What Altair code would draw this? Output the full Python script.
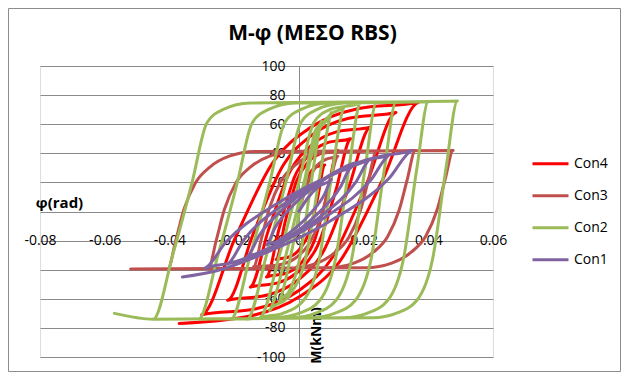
import altair as alt
import pandas as pd

series = ["Con4", "Con3", "Con2", "Con1"]
colors = ["#FF0000", "#C0504D", "#9BBB59", "#8064A2"]
x_ticks = [-0.08, -0.06, -0.04, -0.02, 0, 0.02, 0.04, 0.06]
y_ticks = [-100, -80, -60, -40, -20, 0, 20, 40, 60, 80, 100]

# Con4 (red)
phi_con4 = [0, 0.0012, 0.0026, 0.004, 0.0058, 0.008,
            0.0058, 0.0031, 0.0005, -0.0028, -0.007,
            -0.0042, -0.0007, 0.0025, 0.0067, 0.012,
            0.0087, 0.0047, 0.001, -0.0038, -0.010,
            -0.0061, -0.0014, 0.003, 0.0087, 0.016,
            0.0114, 0.0058, 0.0005, -0.0063, -0.015,
            -0.0095, -0.0028, 0.0035, 0.0116, 0.022,
            0.0154, 0.0075, 0.0, -0.0097, -0.022,
            -0.0142, -0.0048, 0.004, 0.0154, 0.030,
            0.021, 0.0102, 0.0, -0.0132, -0.030,
            -0.020, -0.0079, 0.0035, 0.0182, 0.037,
            0.0259, 0.0126, 0.0, -0.0163, -0.037]
m_con4 = [0, 11.2, 23.0, 28.2, 31.0, 32,
          9.3, -14.8, -25.2, -31.1, -33,
          -6.8, 21, 33, 39.8, 42,
          11.6, -20.6, -34.6, -42.4, -45,
          -11.8, 23.4, 38.6, 47.2, 50,
          14.3, -23.4, -39.8, -48.9, -52,
          -13.5, 27.2, 44.8, 54.7, 58,
          16.4, -27.7, -46.7, -57.4, -61,
          -15.9, 31.9, 52.5, 64.1, 68,
          19.4, -32.1, -54.3, -66.8, -71,
          -19.9, 34.1, 57.5, 70.6, 75,
          21.8, -34.4, -58.8, -72.4, -77]

# Con3 (dark red)
phi_con3 = [0, 0.0025, 0.005, 0.0085, 0.012,
            0.0095, 0.007, 0.0035, -0.001, -0.007, -0.014,
            -0.0115, -0.009, -0.0055, -0.001, 0.005, 0.013, 0.024,
            0.0215, 0.019, 0.0155, 0.011, 0.005, -0.003, -0.028,
            -0.0255, -0.023, -0.0195, -0.015, -0.009, -0.001, 0.036,
            0.0335, 0.031, 0.0275, 0.023, 0.017, 0.009, -0.0405,
            -0.038, -0.0355, -0.032, -0.0275, -0.0215, -0.0135, 0.0477,
            0.0452, 0.0427, 0.0392, 0.0347, 0.0287, 0.0207, -0.052]
m_con3 = [0, 18, 30, 36, 38,
          18, -3, -21, -32, -37, -38,
          -18, 3, 21, 32, 39.5, 41, 41.5,
          21.5, 0.5, -17.5, -28.5, -36, -39, -39.5,
          -19.5, 1.5, 19.5, 30.5, 38, 41.2, 42,
          22, 1, -17, -28, -35.5, -38.7, -39.5,
          -19.5, 1.5, 19.5, 30.5, 38, 41.2, 42,
          22, 1, -17, -28, -35.5, -38.7, -39.5]

# Con2 (green)
phi_con2 = [0, 0.003, 0.005, 0.007,
            0.0035, 0.000, -0.003, -0.006,
            -0.002, 0.002, 0.006, 0.010,
            0.0065, 0.002, -0.003, -0.009,
            -0.004, 0.001, 0.006, 0.010, 0.014,
            0.0105, 0.0063, 0.0015, -0.005, -0.012,
            -0.006, 0.000, 0.0046, 0.0095, 0.019,
            0.0155, 0.0113, 0.0065, 0.000, -0.007, -0.016,
            -0.010, -0.004, 0.0006, 0.0055, 0.014, 0.024,
            0.0205, 0.0163, 0.0115, 0.005, -0.002, -0.021,
            -0.015, -0.009, -0.0044, 0.0005, 0.009, 0.030,
            0.0265, 0.0223, 0.0175, 0.011, 0.004, -0.031,
            -0.025, -0.019, -0.0144, -0.0095, -0.001, 0.040,
            0.0365, 0.0323, 0.0275, 0.021, 0.014, -0.045,
            -0.039, -0.033, -0.0284, -0.0235, -0.015, 0.049,
            0.0455, 0.0413, 0.0365, 0.030, 0.023, -0.045, -0.057]
m_con2 = [0, 35, 55, 62,
          15, -35, -55, -62,
          -25, 20, 55, 68,
          25, -33, -58, -68,
          -30, 15, 55, 67, 72,
          30, -33, -61, -70, -73,
          -30, 20, 61, 70, 74.5,
          30, -33, -61, -70, -73, -74,
          -30, 20, 61, 70, 74.5, 75,
          30, -33, -61, -70, -73, -74,
          -30, 20, 61, 70, 74.5, 75,
          30, -33, -61, -70, -73, -74,
          -30, 20, 61, 70, 74.5, 75.5,
          30, -33, -61, -70, -73, -74,
          -30, 20, 61, 70, 74.5, 76,
          30, -33, -61, -70, -73, -74, -70]

# Con1 (purple)
phi_con1 = [0, 0.003, 0.006, 0.010,
            0.008, 0.003, -0.003, -0.007, -0.010,
            -0.0074, -0.0009, 0.0069, 0.0121, 0.016,
            0.0128, 0.0048, -0.0048, -0.0112, -0.016,
            -0.0122, -0.0027, 0.0087, 0.0163, 0.022,
            0.0176, 0.0066, -0.0066, -0.0154, -0.022,
            -0.017, -0.0045, 0.0105, 0.0205, 0.028,
            0.0223, 0.0081, -0.0091, -0.0205, -0.029,
            -0.0226, -0.0066, 0.0126, 0.0254, 0.035,
            0.0279, 0.0102, -0.0112, -0.0254, -0.036]
m_con1 = [0, 10, 17, 22,
          12.1, -2.8, -14.9, -20.8, -23,
          -11.3, 6.2, 20.5, 27.4, 30,
          16.6, -3.6, -20.0, -28.0, -31,
          -16.3, 5.9, 23.9, 32.7, 36,
          20.2, -3.6, -23.0, -32.4, -36,
          -19.5, 5.3, 25.5, 35.3, 39,
          21.8, -3.9, -25.0, -35.1, -39,
          -21.2, 5.6, 27.4, 38.0, 42,
          22.9, -5.9, -29.3, -40.7, -45]

frames = []
for name, phi, m in [("Con4", phi_con4, m_con4), ("Con3", phi_con3, m_con3),
                     ("Con2", phi_con2, m_con2), ("Con1", phi_con1, m_con1)]:
    frames.append(pd.DataFrame({"series": name, "idx": list(range(len(phi))), "phi": phi, "M": m}))
df = pd.concat(frames, ignore_index=True)

FONT = "Open Sans"
GRID = "#8a8a8a"

color = alt.Color(
    "series:N",
    scale=alt.Scale(domain=series, range=colors),
    legend=alt.Legend(
        orient="none", legendX=491, legendY=82, title=None,
        symbolType="stroke", symbolSize=1296, symbolStrokeWidth=3,
        labelFont=FONT, labelFontSize=14, labelColor="#000000", labelOffset=4,
        clipHeight=31.5, rowPadding=0, padding=0,
    ),
)
x = alt.X(
    "phi:Q",
    scale=alt.Scale(domain=[-0.08, 0.06], nice=False, zero=False),
    axis=alt.Axis(
        values=x_ticks, labelExpr="'' + datum.value", grid=False, domain=False, ticks=False,
        offset=-124, labelPadding=0, labelFont=FONT, labelFontSize=14, labelColor="#000000",
        title="φ(rad)", titleFont=FONT, titleFontSize=15, titleFontWeight="bold",
        titleColor="#000000", titleX=19, titleY=-31, titleAlign="center",
        titleBaseline="middle", titleAngle=0, labelFlush=False, labelOverlap=False,
    ),
)
y = alt.Y(
    "M:Q",
    scale=alt.Scale(domain=[-100, 100], nice=False),
    axis=alt.Axis(
        values=y_ticks, labelExpr="'' + datum.value", grid=True, gridColor=GRID, gridWidth=1,
        domain=True, domainColor=GRID, domainWidth=1, ticks=False, offset=-259,
        labelPadding=14, labelFont=FONT, labelFontSize=14, labelColor="#000000",
        title="M(kNm)", titleFont=FONT, titleFontSize=14, titleFontWeight="bold",
        titleColor="#000000", titleX=17, titleY=269, titleAngle=270, titleAlign="center",
        titleBaseline="middle", labelFlush=False, labelOverlap=False,
    ),
)

frame = alt.Chart(pd.DataFrame({"k": [0]})).mark_rect(
    fillOpacity=0, stroke="#8c8c8c", strokeWidth=1, clip=False
).encode(x=alt.value(-31.5), x2=alt.value(580.5), y=alt.value(-57.5), y2=alt.value(305.5))

layers = []
for s in series:
    layers.append(
        alt.Chart(df).transform_filter(alt.datum.series == s)
        .mark_line(strokeWidth=3, interpolate="monotone", strokeJoin="round", strokeCap="round")
        .encode(x=x, y=y, color=color, order="idx:Q")
    )

chart = alt.layer(frame, *layers).properties(
    width=453, height=291,
    title=alt.TitleParams("M-φ (ΜΕΣΟ RBS)", font=FONT, fontSize=21, fontWeight="bold",
                          color="#000000", anchor="middle", frame="group", dx=46, dy=56,
                          offset=20),
    autosize=alt.AutoSizeParams(type="none"),
    padding={"left": 32, "top": 58, "right": 129, "bottom": 15},
).configure_view(strokeWidth=0).configure(background="white")

chart.save("out.html", embed_options={"renderer": "svg", "actions": False})
